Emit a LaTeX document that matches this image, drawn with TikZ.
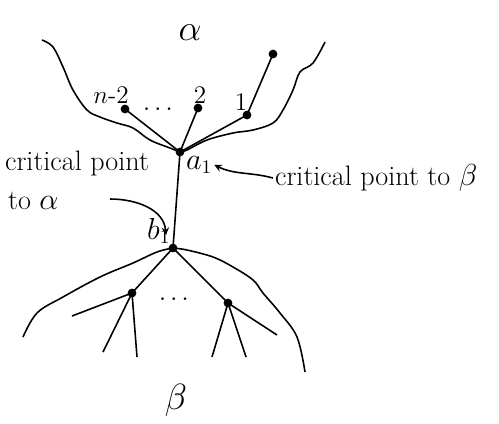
\documentclass[tikz,border=0pt]{standalone}
\usepackage{amsmath,amssymb}
\usetikzlibrary{positioning,calc,arrows}
\tikzset{
  vtx/.style={circle,fill=black,inner sep=0pt,minimum size=5pt},
  lbl/.style={font=\fontsize{16}{19}\selectfont,inner sep=1pt},
  tag/.style={font=\Large,inner sep=1pt},
  greek/.style={font=\huge,inner sep=1pt},
  edge/.style={line width=0.9pt},
  bdry/.style={line width=0.9pt,line join=round},
  ptr/.style={->,>=stealth,line width=0.9pt},
}
\begin{document}
\begin{tikzpicture}[x=0.02cm,y=-0.02cm]
      \useasboundingbox (0,0) rectangle (499,423);
      % vertices
      \node[vtx] (a1) at (180,152) {};
      \node[vtx] (b1) at (173,248) {};
      \node[vtx] (u)  at (125,109) {};
      \node[vtx] (v)  at (198,108) {};
      \node[vtx] (w)  at (247,115) {};
      \node[vtx] (t)  at (273,54)  {};
      \node[vtx] (c)  at (132,293) {};
      \node[vtx] (d)  at (228,303) {};
      \coordinate (l1) at (72,316);
      \coordinate (l2) at (103,352);
      \coordinate (l3) at (137,357);
      \coordinate (r1) at (212,357);
      \coordinate (r2) at (246,357);
      \coordinate (r3) at (277,335);
      \foreach \a/\b in {a1/u,a1/v,a1/w,w/t,a1/b1,b1/c,b1/d,c/l1,c/l2,c/l3,d/r1,d/r2,d/r3}
        \draw[edge] (\a.center)--(\b.center);
      % boundaries
      \draw[bdry] plot[smooth,tension=0.6] coordinates {(42,40) (53,47) (63,67) (73,90) (87,110) (100,117) (117,123) (133,128) (150,140) (170,148) (a1.center)};
      \draw[bdry] plot[smooth,tension=0.6] coordinates {(325,42) (313,63) (300,72) (293,90) (283,110) (273,123) (253,130) (233,133) (207,140) (187,150) (a1.center)};
      \draw[bdry] plot[smooth,tension=0.6] coordinates {(b1.center) (157,252) (133,263) (100,277) (63,297) (37,313) (23,337)};
      \draw[bdry] plot[smooth,tension=0.6] coordinates {(b1.center) (187,250) (213,257) (233,267) (253,280) (263,293) (280,313) (297,337) (305,372)};
      % labels
      \node[greek] (al) at (190,33) {$\alpha$};
      \node[greek] (be) at (176,400) {$\beta$};
      \node[tag] (nu) at (111,95) {$n\text{-}2$};
      \node[tag] (nv) at (200,95) {$2$};
      \node[tag] (nw) at (241,102) {$1$};
      \node[tag] (dt1) at (160,110) {$\cdots$};
      \node[tag] (dt2) at (176,300) {$\cdots$};
      \node[lbl,anchor=west] (a1l) at (184,165) {$a_1$};
      \node[lbl,anchor=west] (b1l) at (145,231) {$b_1$};
      \node[lbl,anchor=west] (cpa) at (3,163) {critical point};
      \node[lbl,anchor=west] (toa) at (6,201) {to $\alpha$};
      \node[lbl,anchor=west] (cpb) at (273,178) {critical point to $\beta$};
      % pointers
      \coordinate (tl) at (110,199);
      \coordinate (hd) at (166,235);
      \draw[ptr] (cpb.west) to[out=165,in=-25] (a1l.east);
      \draw[ptr] (tl) to[out=0,in=95] (hd);
\end{tikzpicture}
\end{document}
